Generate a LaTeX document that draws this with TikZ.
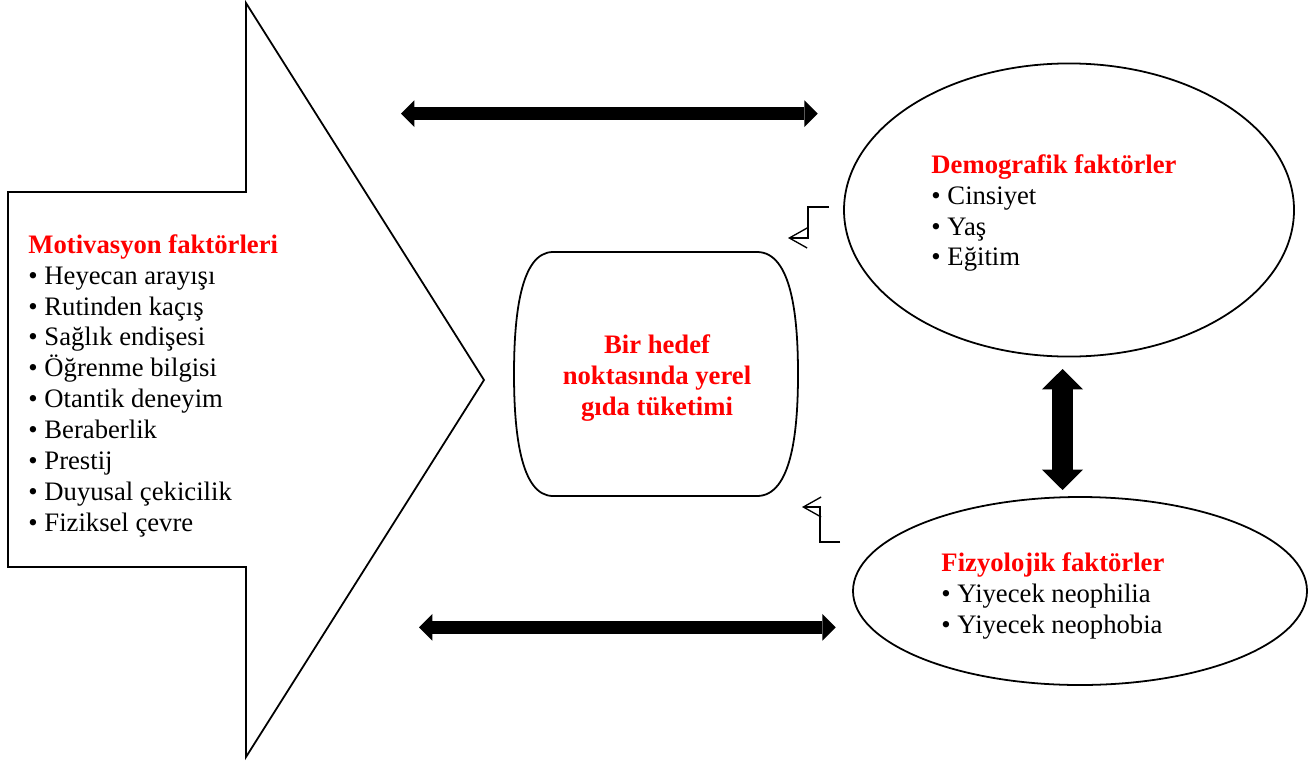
\documentclass[tikz,border=0pt]{standalone}
\usepackage{fontspec}
\setmainfont{Liberation Serif}
\usetikzlibrary{arrows.meta,shapes.geometric}

\tikzset{
  shapeline/.style={draw, line width=0.8pt},
  headtext/.style={text=red, font=\bfseries},
  listtext/.style={anchor=north west, inner sep=0pt, align=left, font=\fontsize{12}{13.9}\selectfont},
  wideboth/.style={line width=5.8pt, {Triangle[width=12pt,length=6pt,line width=0pt]}-{Triangle[width=12pt,length=6pt,line width=0pt]}},
  tallboth/.style={line width=9.5pt, {Triangle[width=18.5pt,length=9.2pt,line width=0pt]}-{Triangle[width=18.5pt,length=9.2pt,line width=0pt]}},
  elbow/.style={line width=0.6pt, -{Straight Barb[length=8pt,width=9pt]}}
}

\begin{document}
\begin{tikzpicture}[x=0.45pt, y=-0.45pt]
            \useasboundingbox (0,0) rectangle (1310,760);
            % big arrow on the left
            \draw[shapeline] (8,192) -- (246,192) -- (246,3) -- (484,380) -- (246,757) -- (246,567) -- (8,567) -- cycle;
            \node[listtext] (motiv) at (28,234) {{\color{red}\bfseries Motivasyon faktörleri}\\
              • Heyecan arayışı\\ • Rutinden kaçış\\ • Sağlık endişesi\\ • Öğrenme bilgisi\\
              • Otantik deneyim\\ • Beraberlik\\ • Prestij\\ • Duyusal çekicilik\\ • Fiziksel çevre};
            % middle box
            \draw[shapeline] (553,252) -- (757,252) .. controls (792,252) and (798,318) .. (798,374)
              .. controls (798,430) and (792,496) .. (757,496) -- (553,496)
              .. controls (520,496) and (514,430) .. (514,374) .. controls (514,318) and (520,252) .. (553,252) -- cycle;
            \node[align=center, inner sep=0pt, headtext, font=\bfseries\fontsize{12}{13.9}\selectfont] (target) at (657,378) {Bir hedef\\ noktasında yerel\\ gıda tüketimi};
            % ellipses
            \node[ellipse, shapeline, minimum width=202.5pt, minimum height=131.9pt, inner sep=0pt] (demo) at (1069,210) {};
            \node[listtext] (demotext) at (931,154) {{\color{red}\bfseries Demografik faktörler}\\ • Cinsiyet\\ • Yaş\\ • Eğitim};
            \node[ellipse, shapeline, minimum width=204.3pt, minimum height=84.6pt, inner sep=0pt] (fizyo) at (1080,591) {};
            \node[listtext] (fizyotext) at (941,552) {{\color{red}\bfseries Fizyolojik faktörler}\\ • Yiyecek neophilia\\ • Yiyecek neophobia};
            % thick arrows
            \coordinate (topl) at (401,113.7);
            \coordinate (topr) at (817.7,113.7);
            \coordinate (botl) at (419,627.3);
            \coordinate (botr) at (835.7,627.3);
            \coordinate (vup) at (1062.5,369);
            \coordinate (vdown) at (1062.5,490);
            \draw[wideboth] (topl) -- (topr);
            \draw[wideboth] (botl) -- (botr);
            \draw[tallboth] (vup) -- (vdown);
            % small elbow arrows
            \coordinate (e1) at (829,207);
            \coordinate (e1t) at (788,238);
            \coordinate (e2) at (840,542);
            \coordinate (e2t) at (802,507);
            \draw[elbow] (e1) -- (808,207) -- (808,238) -- (e1t);
            \draw[elbow] (e2) -- (820,542) -- (820,507) -- (e2t);
        \end{tikzpicture}
\end{document}
